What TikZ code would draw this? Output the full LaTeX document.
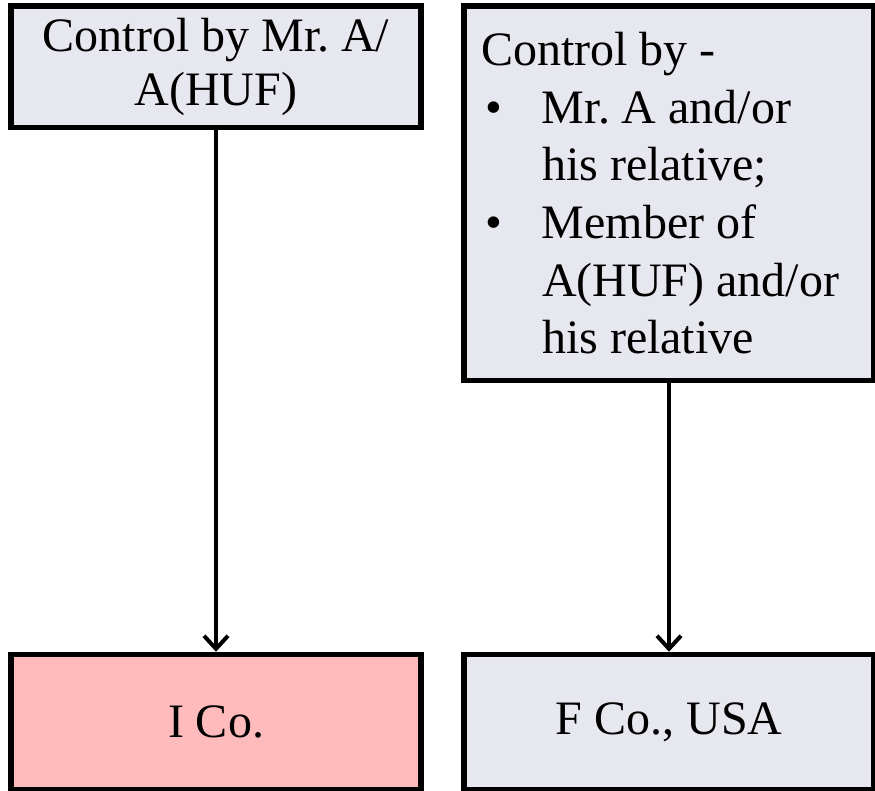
\documentclass[tikz,border=0pt]{standalone}
\usepackage{fontspec}
\setmainfont{Liberation Serif}
\usetikzlibrary{arrows.meta}
\definecolor{boxgray}{RGB}{231,232,239}
\definecolor{boxpink}{RGB}{255,187,187}
\frenchspacing
\begin{document}
\begin{tikzpicture}[x=1pt,y=1pt,>={Straight Barb[length=13pt,width=24pt]}]
	\tikzstyle{ownerbox}=[rectangle,draw=black,line width=5.5pt,fill=boxgray,minimum width=410pt,inner sep=0pt]
	\tikzstyle{companybox}=[ownerbox,minimum height=135.5pt,font=\fontsize{48}{57.6}\selectfont]
	\tikzstyle{link}=[->,line width=4pt]
	\useasboundingbox (0,0) rectangle (875,791);
	\node[ownerbox,minimum height=121.5pt,align=center,font=\fontsize{48}{54}\selectfont] (ctl-a) at (216,724.25) {Control by Mr. A/\\A(HUF)};
	\node[ownerbox,minimum height=374.5pt,text width=376pt,inner xsep=17pt,align=flush left,font=\fontsize{48}{57.6}\selectfont] (ctl-rel) at (669,597.75) {Control by -\\
		\hspace*{4pt}\makebox[57pt][l]{\textbullet}Mr. A and/or\\
		\hspace*{61pt}his relative;\\
		\hspace*{4pt}\makebox[57pt][l]{\textbullet}Member of\\
		\hspace*{61pt}A(HUF) and/or\\
		\hspace*{61pt}his relative};
	\node[companybox,fill=boxpink] (ico) at (216,68.75) {I Co.};
	\node[companybox] (fco) at (669,68.75) {F Co., USA};
	\draw[link] (ctl-a) -- (ico);
	\draw[link] (ctl-rel) -- (fco);
\end{tikzpicture}
\end{document}
